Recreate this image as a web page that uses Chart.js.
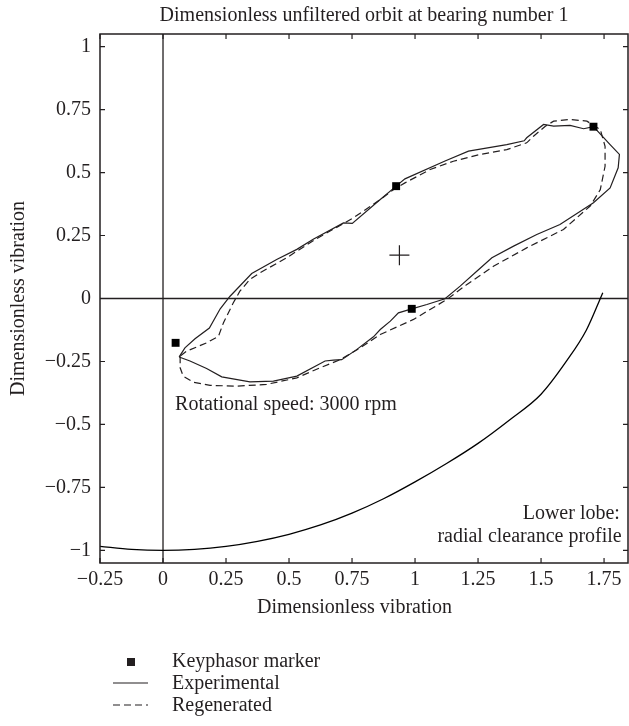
<!DOCTYPE html>
<html>
<head>
<meta charset="utf-8">
<title>Dimensionless unfiltered orbit</title>
<script src="https://cdn.jsdelivr.net/npm/chart.js@4.4.1/dist/chart.umd.min.js"></script>
<style>
    html, body { margin: 0; padding: 0; background: #fff; }
    canvas { display: block; }
</style>
</head>
<body>
<canvas id="chart" width="629" height="726"></canvas>
<script>
// 軸の目盛り
const xTickValues = [-0.25, 0, 0.25, 0.5, 0.75, 1, 1.25, 1.5, 1.75];
const yTickValues = [-1, -0.75, -0.5, -0.25, 0, 0.25, 0.5, 0.75, 1];

// 実測軌跡 (Experimental)
const expX = [0.064, 0.087, 0.127, 0.184, 0.227, 0.266, 0.352, 0.451, 0.531, 0.596, 0.716, 0.751, 0.862, 0.925, 0.960, 1.119, 1.212, 1.364, 1.433, 1.443, 1.510, 1.550, 1.615, 1.669, 1.708, 1.774, 1.811, 1.806, 1.774, 1.708, 1.575, 1.483, 1.391, 1.305, 1.245, 1.179, 1.119, 1.047, 0.987, 0.934, 0.902, 0.862, 0.835, 0.768, 0.709, 0.676, 0.643, 0.531, 0.438, 0.345, 0.233, 0.173, 0.107, 0.064];
const expY = [-0.232, -0.196, -0.160, -0.117, -0.041, 0.009, 0.099, 0.155, 0.195, 0.235, 0.300, 0.298, 0.393, 0.446, 0.475, 0.546, 0.585, 0.611, 0.626, 0.638, 0.691, 0.684, 0.687, 0.674, 0.682, 0.611, 0.572, 0.519, 0.439, 0.380, 0.294, 0.254, 0.208, 0.162, 0.108, 0.049, -0.001, -0.024, -0.041, -0.057, -0.090, -0.123, -0.152, -0.203, -0.243, -0.245, -0.248, -0.308, -0.328, -0.331, -0.311, -0.278, -0.248, -0.232];

// 再生成軌跡 (Regenerated)
const regX = [0.068, 0.068, 0.080, 0.120, 0.187, 0.292, 0.411, 0.531, 0.623, 0.703, 0.782, 0.862, 0.994, 1.126, 1.206, 1.311, 1.443, 1.589, 1.695, 1.735, 1.754, 1.754, 1.735, 1.682, 1.615, 1.550, 1.517, 1.470, 1.443, 1.364, 1.258, 1.152, 1.060, 0.960, 0.914, 0.862, 0.755, 0.600, 0.491, 0.385, 0.345, 0.305, 0.279, 0.240, 0.220, 0.173, 0.094, 0.075, 0.068];
const regY = [-0.229, -0.275, -0.308, -0.332, -0.345, -0.348, -0.341, -0.315, -0.275, -0.243, -0.196, -0.143, -0.083, -0.004, 0.056, 0.128, 0.201, 0.274, 0.367, 0.432, 0.525, 0.604, 0.671, 0.704, 0.711, 0.704, 0.684, 0.644, 0.618, 0.591, 0.572, 0.545, 0.512, 0.459, 0.432, 0.393, 0.320, 0.232, 0.162, 0.102, 0.076, 0.029, -0.017, -0.096, -0.150, -0.176, -0.209, -0.223, -0.229];

// Keyphasor marker
const keyX = [0.050, 0.925, 0.987, 1.708];
const keyY = [-0.176, 0.446, -0.041, 0.682];

// 軌跡の中心 (+)
const centerX = [0.938];
const centerY = [0.172];

// 下側ローブ: 半径方向すきま形状
const lobeX = [-0.25, -0.125, 0, 0.125, 0.25, 0.375, 0.5, 0.625, 0.75, 0.875, 1.0, 1.125, 1.25, 1.375, 1.5, 1.6, 1.68, 1.745];
const lobeY = [-0.984, -0.996, -1.0, -0.996, -0.984, -0.964, -0.936, -0.899, -0.852, -0.795, -0.728, -0.655, -0.575, -0.482, -0.38, -0.25, -0.125, 0.023];

const fontFamily = "'Liberation Serif', 'DejaVu Serif', serif";
const ink = '#231f20';

function toPoints(xs, ys) {
    return xs.map((x, i) => ({ x: x, y: ys[i] }));
}

// マイナス記号付きの目盛り表示
function tickText(v) {
    return v < 0 ? '\u2212' + Math.abs(v) : String(v);
}

// 枠・内向き目盛り・ゼロ線・注記・凡例を描く
const framePlugin = {
    id: 'frame',
    beforeDatasetsDraw(chart) {
        const { ctx, chartArea: a, scales: { x, y } } = chart;
        ctx.save();
        ctx.strokeStyle = ink;
        ctx.lineWidth = 1.3;
        ctx.beginPath();
        const x0 = x.getPixelForValue(0);
        const y0 = y.getPixelForValue(0);
        ctx.moveTo(x0, a.top);
        ctx.lineTo(x0, a.bottom);
        ctx.moveTo(a.left, y0);
        ctx.lineTo(a.right, y0);
        ctx.stroke();
        ctx.restore();
    },
    afterDraw(chart) {
        const { ctx, chartArea: a, scales: { x, y } } = chart;
        ctx.save();
        ctx.strokeStyle = ink;
        ctx.lineWidth = 1.5;
        ctx.strokeRect(a.left, a.top, a.right - a.left, a.bottom - a.top);
        ctx.lineWidth = 1.2;
        ctx.beginPath();
        const tl = 5;
        xTickValues.forEach(v => {
            const px = x.getPixelForValue(v);
            ctx.moveTo(px, a.bottom);
            ctx.lineTo(px, a.bottom - tl);
            ctx.moveTo(px, a.top);
            ctx.lineTo(px, a.top + tl);
        });
        yTickValues.forEach(v => {
            const py = y.getPixelForValue(v);
            ctx.moveTo(a.left, py);
            ctx.lineTo(a.left + tl, py);
            ctx.moveTo(a.right, py);
            ctx.lineTo(a.right - tl, py);
        });
        ctx.stroke();

        ctx.fillStyle = ink;
        ctx.font = '20px ' + fontFamily;
        ctx.textBaseline = 'middle';

        // x軸タイトル (図全体の中央寄り)
        ctx.textAlign = 'center';
        ctx.fillText('Dimensionless vibration', x.getPixelForValue(0.76), x.bottom - 12);

        // 注記
        ctx.textAlign = 'left';
        ctx.fillText('Rotational speed: 3000 rpm', x.getPixelForValue(0.048), y.getPixelForValue(-0.42));
        ctx.textAlign = 'center';
        ctx.fillText('Lower lobe:', x.getPixelForValue(1.62), y.getPixelForValue(-0.853));
        ctx.textAlign = 'right';
        ctx.fillText('radial clearance profile', x.getPixelForValue(1.82), y.getPixelForValue(-0.944));

        // 凡例
        const rows = chart.data.datasets.filter(d => d.legendText);
        rows.forEach((d, i) => {
            const cy = 662 + i * 22;
            ctx.strokeStyle = ink;
            ctx.fillStyle = ink;
            if (d.showLine) {
                ctx.lineWidth = d.borderWidth;
                ctx.setLineDash(d.borderDash || []);
                ctx.beginPath();
                ctx.moveTo(113, cy - 1);
                ctx.lineTo(148, cy - 1);
                ctx.stroke();
                ctx.setLineDash([]);
            } else {
                ctx.fillRect(127, cy - 4, 8, 8);
            }
            ctx.textAlign = 'left';
            ctx.fillText(d.legendText, 172, cy);
        });
        ctx.restore();
    }
};

const chartData = {
    datasets: [{
        label: 'Keyphasor',
        legendText: 'Keyphasor marker',
        data: toPoints(keyX, keyY),
        showLine: false,
        pointStyle: 'rect',
        pointRadius: 5.6,
        backgroundColor: '#000',
        borderWidth: 0
    }, {
        label: 'Experimental',
        legendText: 'Experimental',
        data: toPoints(expX, expY),
        showLine: true,
        borderColor: ink,
        borderWidth: 1.2,
        pointRadius: 0,
        tension: 0
    }, {
        label: 'Regenerated',
        legendText: 'Regenerated',
        data: toPoints(regX, regY),
        showLine: true,
        borderColor: ink,
        borderWidth: 1.2,
        borderDash: [7, 4],
        pointRadius: 0,
        tension: 0
    }, {
        label: 'Center',
        data: toPoints(centerX, centerY),
        showLine: false,
        pointStyle: 'cross',
        pointRadius: 10,
        borderColor: ink,
        borderWidth: 1.2
    }, {
        label: 'Lower lobe',
        data: toPoints(lobeX, lobeY),
        showLine: true,
        borderColor: '#000',
        borderWidth: 1.3,
        pointRadius: 0,
        cubicInterpolationMode: 'monotone'
    }]
};

const chartOption = {
    responsive: false,
    animation: false,
    layout: {
        autoPadding: false,
        padding: { top: 0, right: 1, bottom: 106, left: 0 }
    },
    plugins: {
        legend: { display: false },
        tooltip: { enabled: false },
        title: {
            display: true,
            fullSize: false,
            text: 'Dimensionless unfiltered orbit at bearing number 1',
            color: ink,
            font: { family: fontFamily, size: 20, weight: 'normal' },
            padding: { top: 4, bottom: 6 }
        }
    },
    scales: {
        x: {
            type: 'linear',
            min: -0.25,
            max: 1.845,
            afterBuildTicks: s => { s.ticks = xTickValues.map(v => ({ value: v })); },
            afterFit: s => {
                s.height = 57;
                s.paddingLeft = 0;
                s.paddingRight = 0;
            },
            grid: { display: false, drawTicks: false },
            border: { display: false },
            ticks: {
                padding: 5,
                color: ink,
                maxRotation: 0,
                autoSkip: false,
                font: { family: fontFamily, size: 20 },
                callback: v => tickText(v)
            },
            title: { display: false }
        },
        y: {
            type: 'linear',
            min: -1.05,
            max: 1.05,
            afterBuildTicks: s => { s.ticks = yTickValues.map(v => ({ value: v })); },
            afterFit: s => { s.width = 100; },
            grid: { display: false, drawTicks: false },
            border: { display: false },
            ticks: {
                padding: 9,
                color: ink,
                autoSkip: false,
                font: { family: fontFamily, size: 20 },
                callback: v => tickText(v)
            },
            title: {
                display: true,
                text: 'Dimensionless vibration',
                color: ink,
                font: { family: fontFamily, size: 20 },
                padding: { top: 7, bottom: 0 }
            }
        }
    }
};

new Chart(document.getElementById('chart'), {
    type: 'scatter',
    data: chartData,
    options: chartOption,
    plugins: [framePlugin]
});
</script>
</body>
</html>
